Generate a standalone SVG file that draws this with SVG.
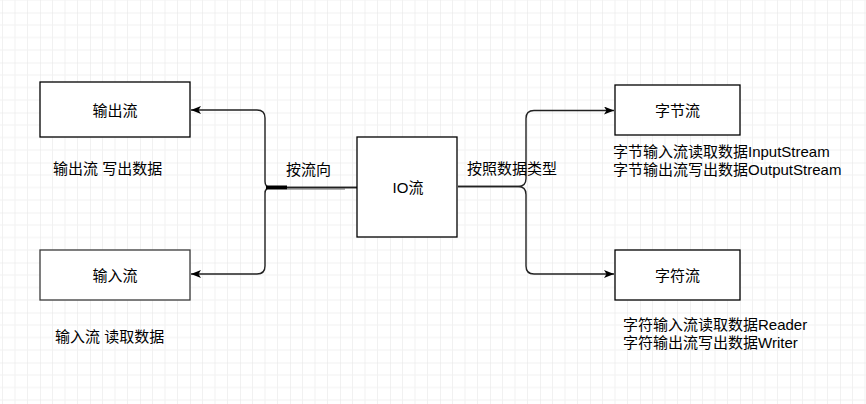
<svg xmlns="http://www.w3.org/2000/svg" width="866" height="404" viewBox="0 0 866 404">
<style>
.box{fill:#fff;stroke:#000;stroke-width:1.3}
.lbl{font-family:"Liberation Sans","Noto Sans CJK SC",sans-serif;font-size:15px;fill:#000}
.c{text-anchor:middle}
.edge{fill:none;stroke:#222;stroke-width:1.4}
</style>
<defs>
<pattern id="grid" patternUnits="userSpaceOnUse" x="40" y="12.5" width="50" height="50">
<path d="M12.5,0V50M25,0V50M37.5,0V50M0,12.5H50M0,25H50M0,37.5H50" stroke="#f1f1f1" stroke-width="1" fill="none"/>
<path d="M0,0V50M0,0H50" stroke="#e3e3e3" stroke-width="1" fill="none"/>
</pattern>
<marker id="arr" viewBox="0 0 10 8" refX="10" refY="4" markerWidth="10" markerHeight="8" markerUnits="userSpaceOnUse" orient="auto">
<path d="M0,0 L10,4 L0,8 L2.5,4 Z" fill="#000"/>
</marker>
</defs>
<rect width="866" height="404" fill="#fff"/>
<rect width="866" height="404" fill="url(#grid)"/>

<g id="connectors">
<path class="edge" d="M357,187.5 H271 Q265,187.5 265,181.5 V118 Q265,110 257,110 H191" marker-end="url(#arr)"/>
<path class="edge" d="M357,187.5 H271 Q265,187.5 265,193.5 V266 Q265,274 257,274 H191" marker-end="url(#arr)"/>
<path d="M266,187.5 H287" stroke="#000" stroke-width="4"/>
<path d="M287,189 H345" stroke="#666" stroke-width="1.2"/>
<path class="edge" d="M458,186.5 H518 Q526,186.5 526,178.5 V118.5 Q526,110.5 534,110.5 H614" marker-end="url(#arr)"/>
<path class="edge" d="M458,186.5 H518 Q526,186.5 526,194.5 V266 Q526,274 534,274 H614" marker-end="url(#arr)"/>
</g>

<g id="output-stream">
<rect class="box" x="40" y="82" width="150" height="55"/>
<text class="lbl c" x="115" y="115.5">输出流</text>
</g>
<g id="input-stream">
<rect class="box" x="40" y="250" width="150" height="50" style="stroke:#3a3a3a"/>
<text class="lbl c" x="115" y="280.5">输入流</text>
</g>
<g id="io-stream">
<rect class="box" x="357" y="137" width="100" height="100"/>
<text class="lbl c" x="408" y="192.5">IO流</text>
</g>
<g id="byte-stream">
<rect class="box" x="615" y="85" width="125" height="50"/>
<text class="lbl c" x="677.5" y="115.5">字节流</text>
</g>
<g id="char-stream">
<rect class="box" x="615" y="250" width="125" height="50"/>
<text class="lbl c" x="677.5" y="280.5">字符流</text>
</g>

<g id="labels">
<text class="lbl" x="53" y="174">输出流 写出数据</text>
<text class="lbl" x="55" y="342">输入流 读取数据</text>
<text class="lbl" x="286" y="175">按流向</text>
<text class="lbl" x="467" y="174">按照数据类型</text>
<text class="lbl" x="613" y="157">字节输入流读取数据InputStream</text>
<text class="lbl" x="613" y="175">字节输出流写出数据OutputStream</text>
<text class="lbl" x="623" y="329.5">字符输入流读取数据Reader</text>
<text class="lbl" x="623" y="348">字符输出流写出数据Writer</text>
</g>
</svg>
